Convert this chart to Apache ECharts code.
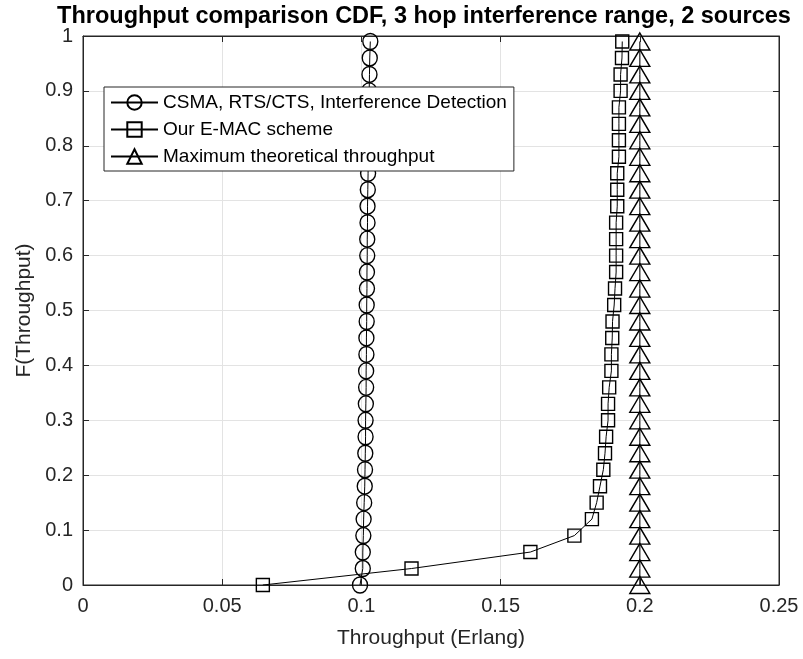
<!DOCTYPE html>
<html>
<head>
<meta charset="utf-8">
<script src="https://cdn.jsdelivr.net/npm/echarts@6/dist/echarts.min.js"></script>
<style>html,body{margin:0;padding:0;background:#fff}#c{width:803px;height:659px}</style>
</head>
<body>
<div id="c"></div>
<script>
const cdfLevels = [0, 0.03, 0.06, 0.09, 0.12, 0.15, 0.18, 0.21, 0.24, 0.27, 0.30, 0.33, 0.36, 0.39, 0.42, 0.45, 0.48, 0.51, 0.54, 0.57, 0.60, 0.63, 0.66, 0.69, 0.72, 0.75, 0.78, 0.81, 0.84, 0.87, 0.90, 0.93, 0.96, 0.99];
const csmaThroughput = [0.0995, 0.1005, 0.1005, 0.1007, 0.1008, 0.1010, 0.1012, 0.1013, 0.1014, 0.1015, 0.1015, 0.1016, 0.1017, 0.1017, 0.1018, 0.1018, 0.1019, 0.1019, 0.1020, 0.1020, 0.1021, 0.1021, 0.1022, 0.1022, 0.1023, 0.1024, 0.1024, 0.1025, 0.1026, 0.1027, 0.1028, 0.1029, 0.1030, 0.1032];
const emacThroughput = [0.0646, 0.118, 0.1607, 0.1765, 0.1828, 0.1845, 0.1857, 0.1869, 0.1875, 0.1879, 0.1886, 0.1886, 0.189, 0.1898, 0.1898, 0.1901, 0.1902, 0.1908, 0.1911, 0.1915, 0.1915, 0.1915, 0.1915, 0.1919, 0.1919, 0.1919, 0.1925, 0.1925, 0.1925, 0.1925, 0.1931, 0.1931, 0.1936, 0.1937];
const maxThroughput = [0.2, 0.2, 0.2, 0.2, 0.2, 0.2, 0.2, 0.2, 0.2, 0.2, 0.2, 0.2, 0.2, 0.2, 0.2, 0.2, 0.2, 0.2, 0.2, 0.2, 0.2, 0.2, 0.2, 0.2, 0.2, 0.2, 0.2, 0.2, 0.2, 0.2, 0.2, 0.2, 0.2, 0.2];
const seriesNames = ['CSMA, RTS/CTS, Interference Detection', 'Our E-MAC scheme', 'Maximum theoretical throughput'];
const xTickLabels = ['0', '0.05', '0.1', '0.15', '0.2', '0.25'];
const yTickLabels = ['0', '0.1', '0.2', '0.3', '0.4', '0.5', '0.6', '0.7', '0.8', '0.9', '1'];

function pairs(xs) { return xs.map((x, i) => [x, cdfLevels[i]]); }

const FONT = '"Liberation Sans", Arial, Helvetica, sans-serif';
const AX = '#262626';
const fmtX = v => { const i = Math.round(v / 0.05); return xTickLabels[i] !== undefined ? xTickLabels[i] : ''; };
const fmtY = v => { const i = Math.round(v / 0.1); return yTickLabels[i] !== undefined ? yTickLabels[i] : ''; };
const tick = {show: true, inside: true, length: 6, lineStyle: {color: AX, width: 1}};
const axLine = {show: true, onZero: false, lineStyle: {color: AX, width: 1}};

const chart = echarts.init(document.getElementById('c'), null, {renderer: 'canvas'});
const mk = (name, xs, symbol, size) => ({
  name, type: 'line', data: pairs(xs), symbol, symbolSize: size, showAllSymbol: true,
  xAxisIndex: 0, yAxisIndex: 0,
  lineStyle: {color: '#000', width: 1}, color: '#000',
  itemStyle: {color: 'rgba(255,255,255,0)', borderColor: '#000', borderWidth: 1.4},
  emphasis: {disabled: true}, animation: false, z: 3
});
chart.setOption({
  animation: false,
  backgroundColor: '#fff',
  title: {text: 'Throughput comparison CDF, 3 hop interference range, 2 sources', left: 424, textAlign: 'center', top: 3, padding: 0,
    textStyle: {fontFamily: FONT, fontSize: 23.5, lineHeight: 28, fontWeight: 'bold', color: '#000'}},
  grid: {left: 83, right: 24, top: 36, bottom: 74, show: true, borderColor: AX, borderWidth: 1, backgroundColor: '#fff'},
  legend: {orient: 'vertical', left: 104, top: 87, padding: [6, 7, 5, 6], itemWidth: 47, itemHeight: 18, itemGap: 8,
    backgroundColor: '#fff', borderColor: AX, borderWidth: 1, borderRadius: 0,
    textStyle: {fontFamily: FONT, fontSize: 19, color: '#000'}, data: seriesNames, selectedMode: false},
  xAxis: [
    {type: 'value', min: 0, max: 0.25, interval: 0.05, name: 'Throughput (Erlang)', nameLocation: 'middle', nameGap: 43,
      nameTextStyle: {fontFamily: FONT, fontSize: 21, color: AX},
      axisLine: axLine, axisTick: tick,
      axisLabel: {fontFamily: FONT, fontSize: 20, color: AX, margin: 11, formatter: fmtX},
      splitLine: {show: true, lineStyle: {color: '#e3e3e3', width: 1}}},
    {type: 'value', position: 'top', min: 0, max: 0.25, interval: 0.05,
      axisLine: axLine, axisTick: tick, axisLabel: {show: false}, splitLine: {show: false}}
  ],
  yAxis: [
    {type: 'value', min: 0, max: 1, interval: 0.1, name: 'F(Throughput)', nameLocation: 'middle', nameGap: 45,
      nameTextStyle: {fontFamily: FONT, fontSize: 21, color: AX},
      axisLine: axLine, axisTick: tick,
      axisLabel: {fontFamily: FONT, fontSize: 20, color: AX, margin: 10, formatter: fmtY},
      splitLine: {show: true, lineStyle: {color: '#e3e3e3', width: 1}}},
    {type: 'value', position: 'right', min: 0, max: 1, interval: 0.1,
      axisLine: axLine, axisTick: tick, axisLabel: {show: false}, splitLine: {show: false}}
  ],
  series: [
    mk(seriesNames[0], csmaThroughput, 'circle', [15, 16]),
    mk(seriesNames[1], emacThroughput, 'rect', 13),
    mk(seriesNames[2], maxThroughput, 'triangle', [20, 17])
  ]
});
</script>
</body>
</html>
